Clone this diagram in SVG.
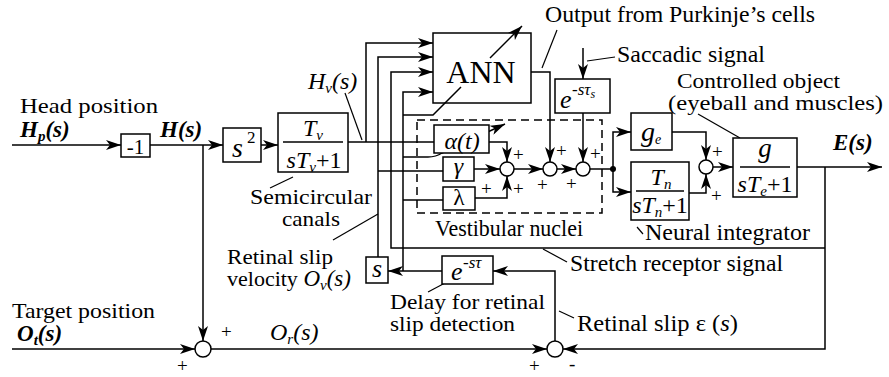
<svg xmlns="http://www.w3.org/2000/svg" width="889" height="377" viewBox="0 0 889 377">
<defs>
<style>
text{font-family:"Liberation Serif","Times New Roman",serif;font-size:23.5px;fill:#000}
.s2{font-size:22px}
.m{font-style:italic;font-size:24px}
.bi{font-weight:bold;font-style:italic;font-size:23px}
.ln{stroke:#000;stroke-width:1.5;fill:none}
.ld{stroke:#000;stroke-width:1.2;fill:none}
.ar{marker-end:url(#ar)}
.box{fill:#fff;stroke:#000;stroke-width:1.5}
.sum{fill:#fff;stroke:#000;stroke-width:1.5}
.pl{font-size:19px}
.sb{font-size:15px}
.c{text-anchor:middle}
</style>
<marker id="ar" viewBox="0 0 15 10" refX="15" refY="5" markerWidth="15" markerHeight="10" markerUnits="userSpaceOnUse" orient="auto">
<path d="M0,0 L15,5 L0,10 L4,5 Z" fill="#000"/>
</marker>
</defs>
<rect width="889" height="377" fill="#fff"/>

<g id="connectors" class="ln">
<path class="ar" d="M12,145 H121"/>
<path class="ar" d="M150,145 H223"/>
<path class="ar" d="M203,145 V341"/>
<path class="ar" d="M261,145 H278"/>
<path d="M348,142 H434"/>
<path class="ar" d="M366,142 V43 H433"/>
<path class="ar" d="M378,257 V57 H433"/>
<path d="M378,171 H443"/>
<path class="ar" d="M825,248 H391 V72 H433"/>
<path class="ar" d="M403,271 V92 H433"/>
<path d="M403,200 H443"/>
<path d="M403,115 H433 L461,87"/>
<path class="ar" d="M490,58 L522,26"/>
<path class="ar" d="M403,157 H428 Q436,157 442,153 L505,124"/>
<path class="ar" d="M489,142 H507 V162"/>
<path class="ar" d="M474,169 H500"/>
<path class="ar" d="M475,198 H507 V176"/>
<path class="ar" d="M514,169 H543"/>
<path class="ar" d="M531,72 H550 V162"/>
<path class="ar" d="M583,48 V79"/>
<path class="ar" d="M583,113 V162"/>
<path class="ar" d="M557,169 H576"/>
<path d="M590,169 H613"/>
<path class="ar" d="M613,169 V132 H631"/>
<path class="ar" d="M613,169 V192 H631"/>
<path class="ar" d="M672,132 H706 V160"/>
<path class="ar" d="M689,193 H706 V174"/>
<path class="ar" d="M713,167 H733"/>
<path class="ar" d="M797,167 H882"/>
<path class="ar" d="M825,167 V349 H563"/>
<path class="ar" d="M555,341 V271 H493"/>
<path class="ar" d="M442,271 H388"/>
<path class="ar" d="M12,349 H195"/>
<path class="ar" d="M211,349 H547"/>
<circle cx="613" cy="169" r="3" fill="#000" stroke="none"/>
</g>

<g id="leaders" class="ld">
<path d="M345,93 L362,140"/>
<path d="M542,68 L557,30"/>
<path d="M587,61 L615,57"/>
<path d="M698,114 L740,138"/>
<path d="M270,188 L293,177"/>
<path d="M333,240 L378,214"/>
<path d="M637,227 L643,234"/>
<path d="M543,249 L567,262"/>
<path d="M428,292 L445,283"/>
<path d="M559,311 L574,318"/>
</g>

<g id="vestibular-nuclei">
<rect x="417" y="120" width="185" height="93" fill="none" stroke="#000" stroke-width="1.5" stroke-dasharray="8,5"/>
<text x="435" y="236" textLength="148" lengthAdjust="spacingAndGlyphs">Vestibular nuclei</text>
</g>

<g id="inv">
<rect class="box" x="121" y="134" width="29" height="23"/>
<text class="c" x="135.5" y="154" style="font-size:21px">-1</text>
</g>
<g id="s2">
<rect class="box" x="223" y="128" width="38" height="34"/>
<text class="m" x="232" y="157" style="font-size:28px">s</text>
<text x="247" y="143" style="font-size:17px">2</text>
</g>
<g id="semicircular">
<rect class="box" x="278" y="113" width="70" height="59"/>
<text class="m c" x="313" y="136">T<tspan class="sb" dy="4">v</tspan></text>
<line x1="283" y1="142" x2="343" y2="142" stroke="#000" stroke-width="1.5"/>
<text class="m c" x="314" y="168">sT<tspan class="sb" dy="4">v</tspan><tspan dy="-4" font-style="normal">+1</tspan></text>
<text class="s2" x="250" y="204" textLength="122" lengthAdjust="spacingAndGlyphs">Semicircular</text>
<text class="s2" x="282" y="226" textLength="58" lengthAdjust="spacingAndGlyphs">canals</text>
</g>
<g id="ann">
<rect x="433" y="33" width="98" height="70" fill="none" stroke="#000" stroke-width="1.5"/>
<text class="c" x="481" y="83" style="font-size:32px">ANN</text>
</g>
<g id="alpha">
<rect class="box" x="434" y="125" width="55" height="28"/>
<text class="m c" x="462" y="149">α(t)</text>
</g>
<g id="gamma">
<rect class="box" x="443" y="157" width="31" height="24"/>
<text class="m c" x="458.5" y="174">γ</text>
</g>
<g id="lambda">
<rect class="box" x="443" y="187" width="32" height="23"/>
<text class="c" x="459" y="205">λ</text>
</g>
<g id="sum1">
<circle class="sum" cx="507" cy="169" r="7"/>
<text class="pl" x="513" y="161">+</text>
<text class="pl" x="481" y="195">+</text>
<text class="pl" x="513" y="195">+</text>
</g>
<g id="sum2">
<circle class="sum" cx="550" cy="169" r="7"/>
<text class="pl" x="556" y="157">+</text>
<text class="pl" x="537" y="191">+</text>
</g>
<g id="saccade-delay">
<rect class="box" x="555" y="79" width="55" height="34"/>
<text class="m" x="560" y="108" style="font-size:26px">e</text>
<text class="m" x="572" y="95" style="font-size:17px">-sτ<tspan dy="3" style="font-size:12px">s</tspan></text>
</g>
<g id="sum3">
<circle class="sum" cx="583" cy="169" r="7"/>
<text class="pl" x="590" y="160">+</text>
<text class="pl" x="566" y="190">+</text>
</g>
<g id="ge">
<rect class="box" x="631" y="113" width="41" height="37"/>
<text class="m" x="641" y="141" style="font-size:28px">g<tspan style="font-size:14px" dy="3">e</tspan></text>
</g>
<g id="neural-integrator">
<rect class="box" x="631" y="162" width="58" height="58"/>
<text class="m c" x="661" y="185">T<tspan class="sb" dy="4">n</tspan></text>
<line x1="636" y1="191" x2="684" y2="191" stroke="#000" stroke-width="1.5"/>
<text class="m c" x="660" y="213">sT<tspan class="sb" dy="4">n</tspan><tspan dy="-4" font-style="normal">+1</tspan></text>
<text x="645" y="240" textLength="165" lengthAdjust="spacingAndGlyphs">Neural integrator</text>
</g>
<g id="sum4">
<circle class="sum" cx="706" cy="167" r="7"/>
<text class="pl" x="712" y="158">+</text>
<text class="pl" x="711" y="202">+</text>
</g>
<g id="plant">
<rect class="box" x="733" y="138" width="64" height="59"/>
<text class="m c" x="765" y="157" style="font-size:27px">g</text>
<line x1="740" y1="167" x2="790" y2="167" stroke="#000" stroke-width="1.5"/>
<text class="m c" x="765" y="192">sT<tspan class="sb" dy="4">e</tspan><tspan dy="-4" font-style="normal">+1</tspan></text>
<text class="s2" x="677" y="88" textLength="163" lengthAdjust="spacingAndGlyphs">Controlled object</text>
<text class="s2" x="668" y="110" textLength="215" lengthAdjust="spacingAndGlyphs">(eyeball and muscles)</text>
</g>
<g id="retinal-delay">
<rect class="box" x="442" y="256" width="51" height="28"/>
<text class="m" x="451" y="280" style="font-size:26px">e</text>
<text class="m" x="463" y="268" style="font-size:17px">-sτ</text>
<text class="s2" x="390" y="309" textLength="155" lengthAdjust="spacingAndGlyphs">Delay for retinal</text>
<text class="s2" x="390" y="331" textLength="125" lengthAdjust="spacingAndGlyphs">slip detection</text>
</g>
<g id="diff">
<rect class="box" x="366" y="257" width="22" height="26"/>
<text class="m c" x="377" y="277" style="font-size:26px">s</text>
</g>
<g id="sum-target">
<circle class="sum" cx="203" cy="349" r="8"/>
<text class="pl" x="221" y="338">+</text>
<text class="pl" x="177" y="372">+</text>
</g>
<g id="sum-slip">
<circle class="sum" cx="555" cy="349" r="8"/>
<text class="pl" x="529" y="372">+</text>
<text class="pl" x="569" y="370">-</text>
</g>

<g id="labels">
<text class="s2" x="20" y="113" textLength="138" lengthAdjust="spacingAndGlyphs">Head position</text>
<text class="bi" x="20" y="137">H<tspan class="sb" dy="4">p</tspan><tspan dy="-4">(s)</tspan></text>
<text class="bi" x="160" y="137">H(s)</text>
<text class="m" x="308" y="89">H<tspan class="sb" dy="4">v</tspan><tspan dy="-4">(s)</tspan></text>
<text x="545" y="22" textLength="270" lengthAdjust="spacingAndGlyphs">Output from Purkinje’s cells</text>
<text x="617" y="62" textLength="148" lengthAdjust="spacingAndGlyphs">Saccadic signal</text>
<text class="bi" x="833" y="150">E(s)</text>
<text class="s2" x="227" y="264" textLength="106" lengthAdjust="spacingAndGlyphs">Retinal slip</text>
<text class="s2" x="227" y="286">velocity <tspan class="m" style="font-size:23px">O<tspan class="sb" dy="4">v</tspan><tspan dy="-4">(s)</tspan></tspan></text>
<text x="570" y="271" textLength="213" lengthAdjust="spacingAndGlyphs">Stretch receptor signal</text>
<text x="577" y="331" textLength="161" lengthAdjust="spacingAndGlyphs">Retinal slip  ε (<tspan font-style="italic">s</tspan>)</text>
<text class="s2" x="12" y="318" textLength="143" lengthAdjust="spacingAndGlyphs">Target position</text>
<text class="bi" x="17" y="341">O<tspan class="sb" dy="4">t</tspan><tspan dy="-4">(s)</tspan></text>
<text class="m" x="270" y="340">O<tspan class="sb" dy="4">r</tspan><tspan dy="-4">(s)</tspan></text>
</g>
</svg>
